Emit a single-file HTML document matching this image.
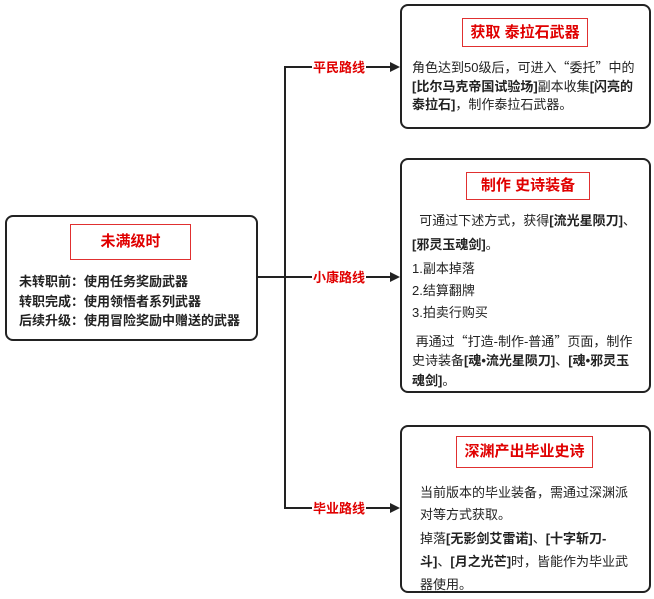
<!DOCTYPE html>
<html><head><meta charset="utf-8"><style>
body{margin:0;width:654px;height:599px;background:#fff;position:relative;overflow:hidden;font-family:"Liberation Sans","Noto Sans CJK SC",sans-serif;color:#222}
.box{position:absolute;border:2px solid #222;border-radius:8px;background:#fff;box-sizing:border-box}
.tb{position:absolute;border:1px solid #e03030;box-sizing:border-box;color:#e00000;font-weight:bold;font-size:15px;text-align:center}
.t{position:absolute;font-size:13px;white-space:nowrap;line-height:15px}
.q{font-family:"Noto Sans CJK SC",sans-serif}
b{font-weight:bold}
.lab{position:absolute;color:#e00000;font-weight:bold;font-size:13px;background:#fff;line-height:15px;padding:0 1px}
</style></head><body>
<svg width="654" height="599" style="position:absolute;left:0;top:0">
<g stroke="#222" stroke-width="2" fill="none">
<line x1="257" y1="277" x2="392" y2="277"/>
<polyline points="392,67 285,67 285,508 392,508"/>
</g>
<g fill="#222">
<polygon points="400,67 390,62 390,72"/>
<polygon points="400,277 390,272 390,282"/>
<polygon points="400,508 390,503 390,513"/>
</g>
</svg>
<div class="lab" style="left:312px;top:60px">平民路线</div>
<div class="lab" style="left:312px;top:270px">小康路线</div>
<div class="lab" style="left:312px;top:501px">毕业路线</div>

<div class="box" style="left:5px;top:215px;width:253px;height:126px"></div>
<div class="tb" style="left:70px;top:224px;width:121px;height:36px;line-height:34px">未满级时</div>
<div class="t" style="left:19px;top:274px"><b>未转职前：使用任务奖励武器</b></div>
<div class="t" style="left:19px;top:294px"><b>转职完成：使用领悟者系列武器</b></div>
<div class="t" style="left:19px;top:313px"><b>后续升级：使用冒险奖励中赠送的武器</b></div>

<div class="box" style="left:400px;top:4px;width:251px;height:125px"></div>
<div class="tb" style="left:462px;top:18px;width:126px;height:29px;line-height:27px">获取 泰拉石武器</div>
<div class="t" style="left:412px;top:59px">角色达到50级后，可进入<span class="q">“</span>委托<span class="q">”</span>中的</div>
<div class="t" style="left:412px;top:79px"><b>[比尔马克帝国试验场]</b>副本收集<b>[闪亮的</b></div>
<div class="t" style="left:412px;top:97px"><b>泰拉石]</b>，制作泰拉石武器。</div>

<div class="box" style="left:400px;top:158px;width:251px;height:235px"></div>
<div class="tb" style="left:466px;top:172px;width:124px;height:28px;line-height:26px">制作 史诗装备</div>
<div class="t" style="left:412px;top:213px">&nbsp; 可通过下述方式，获得<b>[流光星陨刀]</b>、</div>
<div class="t" style="left:412px;top:237px"><b>[邪灵玉魂剑]</b>。</div>
<div class="t" style="left:412px;top:261px">1.副本掉落</div>
<div class="t" style="left:412px;top:283px">2.结算翻牌</div>
<div class="t" style="left:412px;top:305px">3.拍卖行购买</div>
<div class="t" style="left:412px;top:333px">&nbsp;再通过<span class="q">“</span>打造-制作-普通<span class="q">”</span>页面，制作</div>
<div class="t" style="left:412px;top:353px">史诗装备<b>[魂•流光星陨刀]</b>、<b>[魂•邪灵玉</b></div>
<div class="t" style="left:412px;top:373px"><b>魂剑]</b>。</div>

<div class="box" style="left:400px;top:425px;width:251px;height:168px"></div>
<div class="tb" style="left:456px;top:436px;width:137px;height:32px;line-height:30px">深渊产出毕业史诗</div>
<div class="t" style="left:420px;top:485px">当前版本的毕业装备，需通过深渊派</div>
<div class="t" style="left:420px;top:507px">对等方式获取。</div>
<div class="t" style="left:420px;top:531px">掉落<b>[无影剑艾雷诺]</b>、<b>[十字斩刀-</b></div>
<div class="t" style="left:420px;top:554px"><b>斗]</b>、<b>[月之光芒]</b>时，皆能作为毕业武</div>
<div class="t" style="left:420px;top:577px">器使用。</div>
</body></html>
